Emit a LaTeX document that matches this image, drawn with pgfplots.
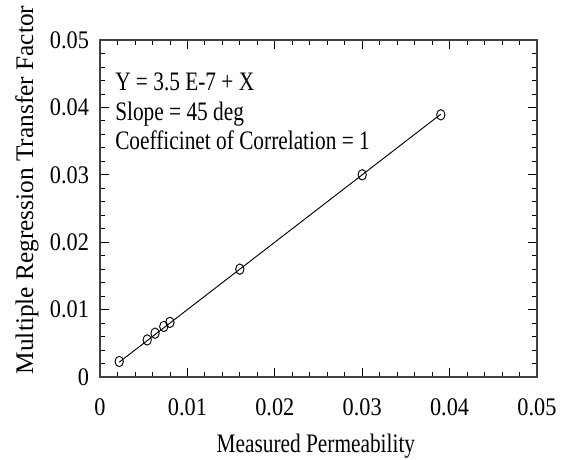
\documentclass[border=0pt]{standalone}
\usepackage{fontspec}
\setmainfont{Liberation Serif}[FakeStretch=0.88]
\newfontfamily\ylabfont{Liberation Serif}
\newfontfamily\condfont{Liberation Serif}[FakeStretch=0.8]
\usepackage{pgfplots}
\pgfplotsset{compat=1.18}
\begin{document}
\begin{tikzpicture}
\path[use as bounding box] (-75pt,-62.25pt) rectangle (351pt,282.75pt);
\begin{axis}[
  at={(0,0)}, anchor=south west,
  scale only axis, width=327.75pt, height=252.75pt,
  xmin=0, xmax=0.05, ymin=0, ymax=0.05,
  xtick={0,0.01,...,0.05}, ytick={0,0.01,...,0.05},
  minor tick num=4,
  tick align=inside,
  major tick length=7pt, minor tick length=4pt,
  every tick/.style={black, line width=0.6pt},
  axis line style={line width=0.9pt, black!75},
  scaled x ticks=false, scaled y ticks=false,
  /pgf/number format/fixed, /pgf/number format/precision=2,
  /pgf/number format/assume math mode=true,
  tick label style={font=\fontsize{19}{21}\selectfont},
  xticklabel style={yshift=-12.5pt},
  yticklabel style={xshift=-4.75pt},
  xlabel={\condfont Measured Permeability},
  xlabel style={font=\fontsize{20}{22}\selectfont, at={(axis description cs:0.494,-0.2255)}, anchor=base},
  ylabel={\ylabfont Multiple Regression Transfer Factor},
  ylabel style={font=\fontsize{19}{21}\selectfont, at={(axis description cs:-0.153,0.555)}, anchor=base},
]
\addplot[black, line width=0.7pt, no marks] coordinates {(0.0022,0.0022) (0.039,0.039)};
\addplot[only marks, mark=o, mark size=3.9pt, mark options={xscale=0.8, black, line width=0.7pt}] coordinates {
(0.0022,0.0023) (0.0054,0.0055) (0.0063,0.0065) (0.0073,0.0075) (0.0080,0.0081) (0.0160,0.0160) (0.0300,0.0300) (0.0390,0.0389)};
\node[anchor=base west, inner sep=0pt, font=\condfont\fontsize{20}{22}\selectfont]
  at (axis description cs:0.0343,0.8487) {Y = 3.5 E-7 + X};
\node[anchor=base west, inner sep=0pt, font=\condfont\fontsize{20}{22}\selectfont]
  at (axis description cs:0.0343,0.7611) {Slope = 45 deg};
\node[anchor=base west, inner sep=0pt, font=\condfont\fontsize{20}{22}\selectfont]
  at (axis description cs:0.0343,0.6736) {Coefficinet of Correlation = 1};
\end{axis}
\end{tikzpicture}
\end{document}
